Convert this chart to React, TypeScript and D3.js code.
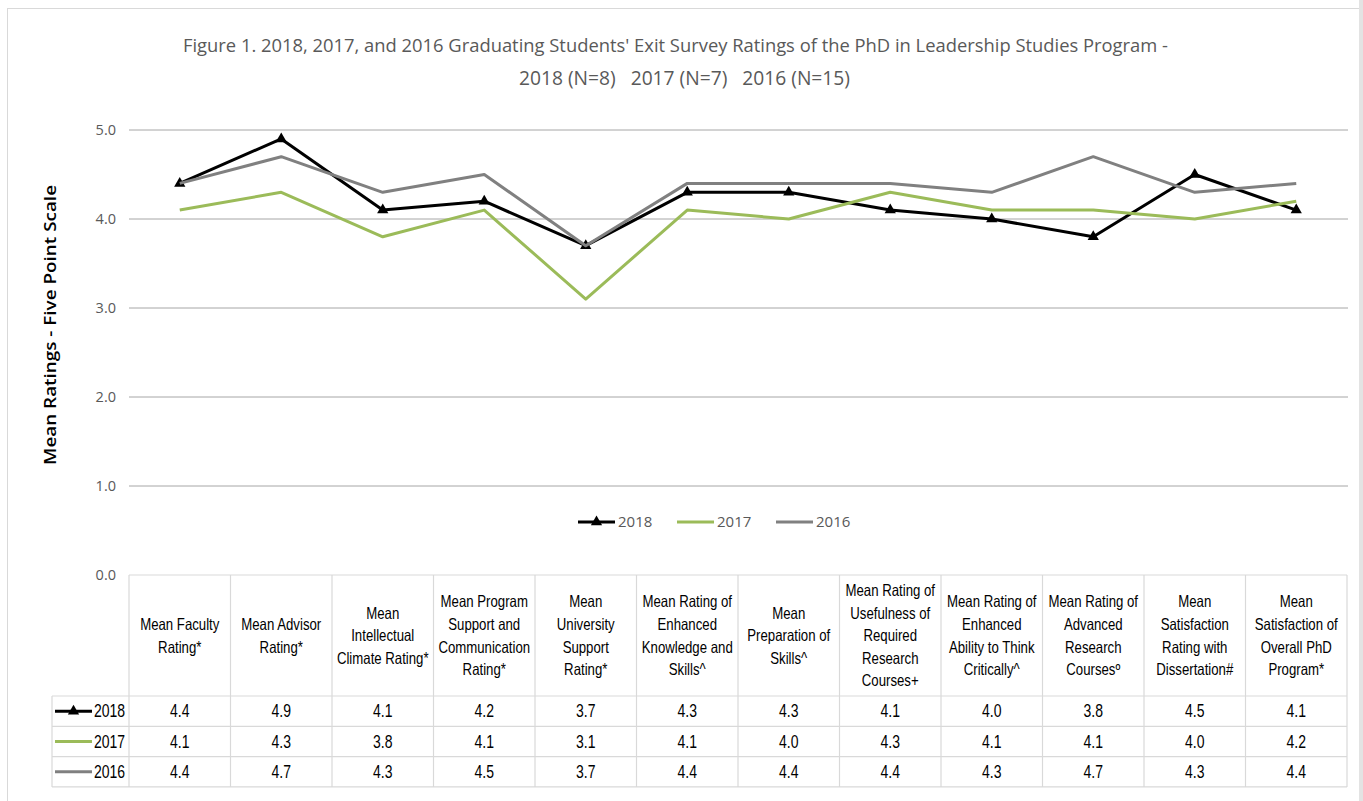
import React from "react";
import * as d3 from "d3";

const categories: string[] = [
  "Mean Faculty\nRating*",
  "Mean Advisor\nRating*",
  "Mean\nIntellectual\nClimate Rating*",
  "Mean Program\nSupport and\nCommunication\nRating*",
  "Mean\nUniversity\nSupport\nRating*",
  "Mean Rating of\nEnhanced\nKnowledge and\nSkills^",
  "Mean\nPreparation of\nSkills^",
  "Mean Rating of\nUsefulness of\nRequired\nResearch\nCourses+",
  "Mean Rating of\nEnhanced\nAbility to Think\nCritically^",
  "Mean Rating of\nAdvanced\nResearch\nCoursesº",
  "Mean\nSatisfaction\nRating with\nDissertation#",
  "Mean\nSatisfaction of\nOverall PhD\nProgram*",
];

const values2018: number[] = [4.4, 4.9, 4.1, 4.2, 3.7, 4.3, 4.3, 4.1, 4.0, 3.8, 4.5, 4.1];
const values2017: number[] = [4.1, 4.3, 3.8, 4.1, 3.1, 4.1, 4.0, 4.3, 4.1, 4.1, 4.0, 4.2];
const values2016: number[] = [4.4, 4.7, 4.3, 4.5, 3.7, 4.4, 4.4, 4.4, 4.3, 4.7, 4.3, 4.4];

const seriesNames: string[] = ["2018", "2017", "2016"];
const yTicks: number[] = [0, 1, 2, 3, 4, 5];

const titleLine1 =
  "Figure 1. 2018, 2017, and 2016 Graduating Students' Exit Survey Ratings of the PhD in Leadership Studies Program -";
const titleLine2 = "2018 (N=8)   2017 (N=7)   2016 (N=15)";
const yAxisTitle = "Mean Ratings - Five Point Scale";

const W = 1363;
const H = 801;
const plotLeft = 129;
const plotRight = 1347;
const plotTop = 130;
const plotBottom = 575;
const headerBottom = 696;
const rowH = 30.3;
const keyLeft = 52;
const narrowScale = 0.8;

const colors = ["#000000", "#9bbb59", "#808080"];
const narrow = "'Liberation Sans', Arial, sans-serif";
const calibri = "'Open Sans', 'Noto Sans', sans-serif";

export default function App() {
  const series = [values2018, values2017, values2016];
  const x = d3.scaleBand<number>().domain(d3.range(categories.length)).range([plotLeft, plotRight]);
  const y = d3.scaleLinear().domain([0, 5]).range([plotBottom, plotTop]);
  const cx = (i: number) => (x(i) as number) + x.bandwidth() / 2;
  const line = d3
    .line<number>()
    .x((_, i) => cx(i))
    .y((d) => y(d));
  const tri = d3.symbol().type(d3.symbolTriangle).size(55)() as string;

  const legendItems = [
    { x: 578, name: seriesNames[0] },
    { x: 677, name: seriesNames[1] },
    { x: 776, name: seriesNames[2] },
  ];

  const headerCenter = (plotBottom + headerBottom) / 2;
  const lineGap = 22.6;

  return (
    <svg
      width={W}
      height={H}
      style={{ position: "absolute", left: 0, top: 0, background: "#fff" }}
    >
      <rect x={0} y={0} width={W} height={H} fill="#fff" />
      <rect x={7.5} y={8.5} width={1352} height={800} fill="none" stroke="#d9d9d9" strokeWidth={1} />
      <rect x={1359} y={0} width={4} height={H} fill="#e3e3e3" />

      {/* title */}
      <text
        x={675.5}
        y={52}
        textAnchor="middle"
        fontFamily={calibri}
        fontSize={19}
        fill="#595959"
        textLength={985}
        lengthAdjust="spacingAndGlyphs"
      >
        {titleLine1}
      </text>
      <text
        x={684.5}
        y={85}
        textAnchor="middle"
        fontFamily={calibri}
        fontSize={19.5}
        fill="#595959"
        textLength={331}
        lengthAdjust="spacingAndGlyphs"
        style={{ whiteSpace: "pre" }}
      >
        {titleLine2}
      </text>

      {/* y axis title */}
      <text
        transform={`translate(56, 325) rotate(-90)`}
        textAnchor="middle"
        fontFamily={calibri}
        fontSize={16}
        fontWeight={600}
        fill="#000"
        textLength={280}
        lengthAdjust="spacingAndGlyphs"
      >
        {yAxisTitle}
      </text>

      {/* gridlines and tick labels */}
      {yTicks.map((t) => (
        <g key={t}>
          {t > 0 && (
            <line x1={plotLeft} x2={plotRight + 1} y1={y(t)} y2={y(t)} stroke="#a6a6a6" strokeWidth={1} />
          )}
          <text
            x={116}
            y={y(t)}
            dy="0.35em"
            textAnchor="end"
            fontFamily={calibri}
            fontSize={14.5}
            fill="#595959"
          >
            {t.toFixed(1)}
          </text>
        </g>
      ))}

      {/* series lines */}
      {series.map((vals, s) => (
        <g key={s}>
          <path
            d={line(vals) as string}
            fill="none"
            stroke={colors[s]}
            strokeWidth={3}
            strokeLinejoin="round"
          />
          {s === 0 &&
            vals.map((v, i) => (
              <path key={i} d={tri} transform={`translate(${cx(i)},${y(v)})`} fill="#000" />
            ))}
        </g>
      ))}

      {/* legend */}
      {legendItems.map((it, s) => (
        <g key={s}>
          <line x1={it.x} x2={it.x + 37} y1={522} y2={522} stroke={colors[s]} strokeWidth={3} />
          {s === 0 && <path d={tri} transform={`translate(${it.x + 18.5},522)`} fill="#000" />}
          <text x={it.x + 40} y={522} dy="0.36em" fontFamily={calibri} fontSize={15} fill="#595959">
            {it.name}
          </text>
        </g>
      ))}

      {/* data table */}
      <g stroke="#d9d9d9" strokeWidth={1.2}>
        <line x1={plotLeft} x2={plotRight} y1={plotBottom} y2={plotBottom} />
        {d3.range(categories.length + 1).map((i) => (
          <line
            key={i}
            x1={plotLeft + x.step() * i}
            x2={plotLeft + x.step() * i}
            y1={plotBottom}
            y2={headerBottom + rowH * 3}
          />
        ))}
        <line x1={keyLeft} x2={keyLeft} y1={headerBottom} y2={headerBottom + rowH * 3} />
        {d3.range(4).map((r) => (
          <line
            key={r}
            x1={keyLeft}
            x2={plotRight}
            y1={headerBottom + rowH * r}
            y2={headerBottom + rowH * r}
          />
        ))}
      </g>

      {categories.map((c, i) => {
        const lines = c.split("\n");
        const start = headerCenter - ((lines.length - 1) * lineGap) / 2;
        return (
          <g key={i} transform={`translate(${cx(i)},0) scale(${narrowScale},1)`}>
            <text textAnchor="middle" fontFamily={narrow} fontSize={16.5} fill="#000">
              {lines.map((l, k) => (
                <tspan key={k} x={0} y={start + k * lineGap} dy="0.35em">
                  {l}
                </tspan>
              ))}
            </text>
          </g>
        );
      })}

      {series.map((vals, s) => {
        const ry = headerBottom + rowH * s + rowH / 2;
        return (
          <g key={s}>
            <line x1={55} x2={92} y1={ry} y2={ry} stroke={colors[s]} strokeWidth={3} />
            {s === 0 && <path d={tri} transform={`translate(73.5,${ry})`} fill="#000" />}
            <g transform={`translate(94,0) scale(${narrowScale},1)`}>
              <text x={0} y={ry} dy="0.36em" fontFamily={narrow} fontSize={17.5} fill="#000">
                {seriesNames[s]}
              </text>
            </g>
            {vals.map((v, i) => (
              <g key={i} transform={`translate(${cx(i)},0) scale(${narrowScale},1)`}>
                <text
                  x={0}
                  y={ry}
                  dy="0.36em"
                  textAnchor="middle"
                  fontFamily={narrow}
                  fontSize={17.5}
                  fill="#000"
                >
                  {v.toFixed(1)}
                </text>
              </g>
            ))}
          </g>
        );
      })}
    </svg>
  );
}
